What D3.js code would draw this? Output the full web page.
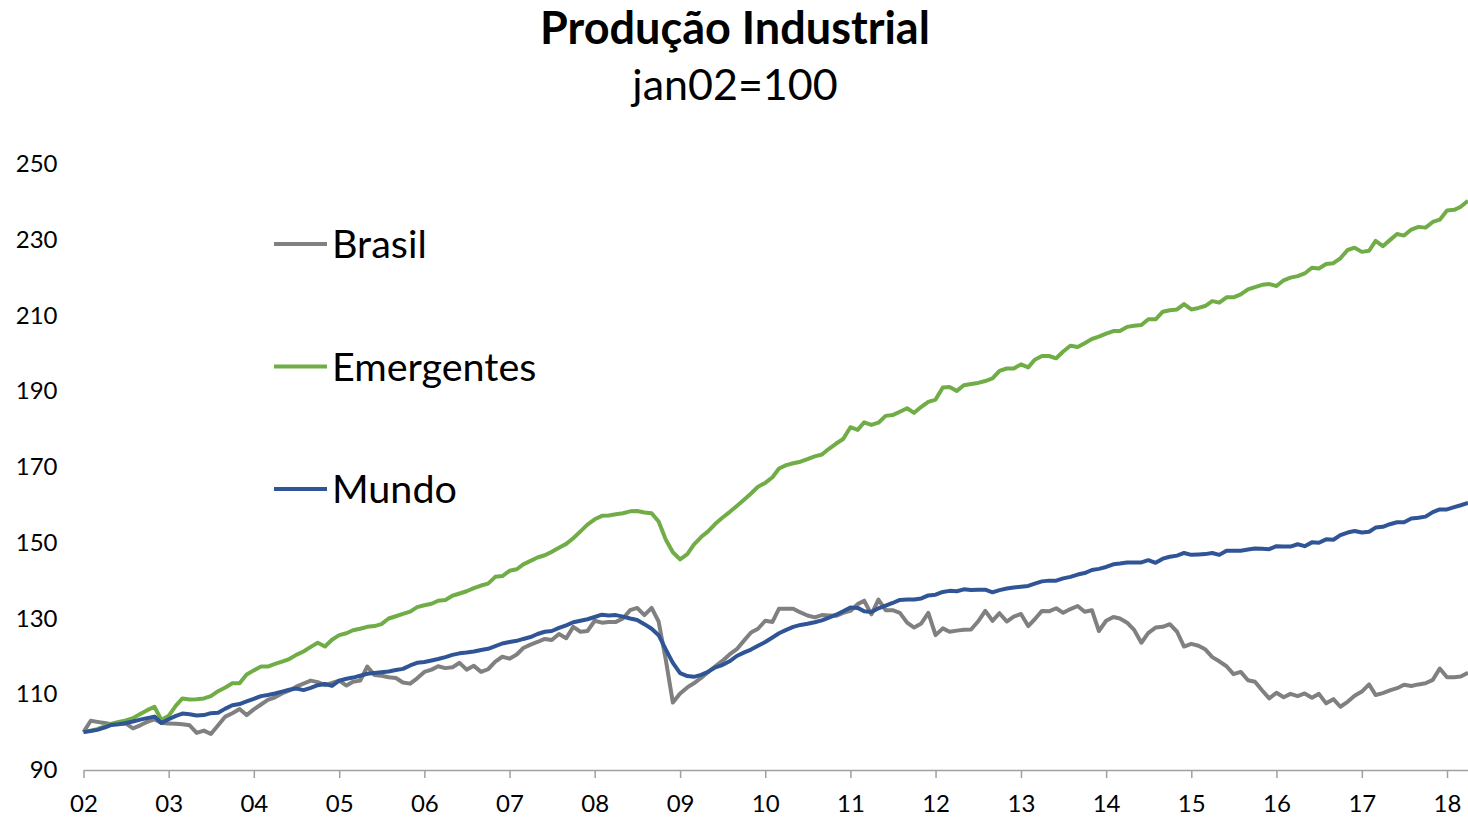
<!DOCTYPE html>
<html>
<head>
<meta charset="utf-8">
<script src="https://cdn.jsdelivr.net/npm/d3@7"></script>
<style>
  body { margin: 0; background: #fff; }
  text { font-family: Lato, "Open Sans", sans-serif; fill: #000; }
</style>
</head>
<body>
<svg id="chart" width="1468" height="818"></svg>
<script>
// monthly index, jan02 = 100 (jan 2002 .. apr 2018)
const brasil = [
  100.0, 103.0, 102.7, 102.4, 102.1, 102.2, 102.3, 101.0, 101.8, 102.7, 103.4, 102.4, // 02
  102.3, 102.2, 102.1, 101.8,  99.8, 100.4,  99.5, 101.8, 104.1, 105.0, 106.1, 104.5, // 03
  106.0, 107.3, 108.5, 109.2, 110.2, 111.0, 112.0, 112.8, 113.6, 113.2, 112.4, 113.0, // 04
  113.6, 112.3, 113.3, 113.6, 117.3, 115.1, 114.9, 114.5, 114.3, 113.1, 112.8, 114.2, // 05
  115.9, 116.5, 117.4, 116.9, 117.1, 118.3, 116.5, 117.5, 115.9, 116.6, 118.6, 119.9, // 06
  119.4, 120.5, 122.2, 123.1, 123.8, 124.6, 124.3, 125.9, 124.8, 127.8, 126.5, 126.7, // 07
  129.4, 128.9, 129.1, 129.1, 130.0, 132.2, 132.8, 130.9, 132.8, 129.2, 119.0, 107.8, // 08
  110.2, 111.8, 112.9, 114.3, 115.9, 117.4, 118.8, 120.5, 121.9, 124.1, 126.3, 127.3, // 09
  129.4, 129.1, 132.6, 132.6, 132.6, 131.6, 130.8, 130.3, 130.9, 130.8, 130.7, 131.5, // 10
  132.0, 133.8, 134.7, 131.1, 135.0, 132.2, 132.2, 131.5, 128.9, 127.6, 128.7, 131.5, // 11
  125.6, 127.4, 126.5, 126.8, 127.0, 127.1, 129.2, 132.0, 129.4, 131.4, 129.2, 130.5, // 12
  131.2, 128.0, 129.8, 132.0, 131.9, 132.7, 131.5, 132.5, 133.3, 131.8, 132.2, 126.7, // 13
  129.4, 130.4, 130.0, 128.9, 127.0, 123.6, 126.2, 127.6, 127.8, 128.5, 126.5, 122.6, // 14
  123.3, 122.8, 121.9, 119.8, 118.7, 117.4, 115.3, 115.9, 113.7, 113.3, 111.0, 108.9, // 15
  110.4, 109.2, 110.1, 109.5, 110.2, 109.1, 110.1, 107.6, 108.7, 106.7, 108.0, 109.6, // 16
  110.7, 112.6, 109.8, 110.3, 111.0, 111.6, 112.5, 112.2, 112.6, 112.9, 113.8, 116.8, // 17
  114.5, 114.5, 114.7, 115.7                                                          // 18
];

const emergentes = [
  100.0, 100.4, 100.8, 101.5, 102.2, 102.7, 103.1, 103.7, 104.8, 105.8, 106.7, 103.2,
  104.3, 107.0, 108.9, 108.6, 108.7, 108.9, 109.5, 110.8, 111.8, 112.9, 112.9, 115.2,
  116.3, 117.3, 117.3, 118.0, 118.6, 119.3, 120.4, 121.3, 122.5, 123.6, 122.6, 124.4,
  125.6, 126.1, 126.9, 127.3, 127.8, 128.0, 128.5, 130.0, 130.6, 131.2, 131.8, 133.0,
  133.5, 133.9, 134.7, 134.9, 136.0, 136.6, 137.2, 138.0, 138.7, 139.2, 141.0, 141.2,
  142.6, 143.0, 144.3, 145.2, 146.1, 146.7, 147.6, 148.7, 149.7, 151.2, 153.0, 154.8,
  156.2, 157.1, 157.2, 157.5, 157.8, 158.3, 158.4, 158.0, 157.8, 155.6, 150.8, 147.5,
  145.6, 147.0, 149.5, 151.5, 153.0, 155.0, 156.6, 158.1, 159.7, 161.3, 163.0, 164.8,
  165.8, 167.3, 169.6, 170.5, 171.0, 171.4, 172.1, 172.8, 173.3, 174.8, 176.2, 177.4,
  180.5, 179.8, 181.8, 181.1, 181.7, 183.5, 183.7, 184.6, 185.5, 184.3, 185.9, 187.2,
  187.8, 191.0, 191.1, 190.1, 191.6, 191.9, 192.2, 192.7, 193.4, 195.4, 196.0, 196.0,
  197.1, 196.3, 198.3, 199.3, 199.3, 198.7, 200.5, 202.0, 201.7, 202.7, 203.8, 204.4,
  205.2, 205.9, 205.9, 207.0, 207.3, 207.5, 209.0, 209.0, 211.0, 211.4, 211.6, 213.0,
  211.6, 212.0, 212.5, 213.8, 213.4, 214.8, 214.8, 215.6, 216.9, 217.5, 218.1, 218.3,
  217.8, 219.3, 220.0, 220.4, 221.1, 222.6, 222.4, 223.6, 223.8, 225.1, 227.3, 227.9,
  226.8, 227.1, 229.7, 228.3, 229.9, 231.5, 231.1, 232.7, 233.4, 233.2, 234.7, 235.3,
  237.7, 237.9, 238.7, 240.3
];

const mundo = [
  100.0, 100.3, 100.6, 101.2, 101.9, 102.1, 102.4, 102.8, 103.3, 103.7, 104.1, 102.4,
  103.4, 104.3, 104.9, 104.7, 104.4, 104.5, 105.0, 105.1, 106.2, 107.1, 107.4, 108.1,
  108.8, 109.5, 109.8, 110.2, 110.7, 111.2, 111.5, 111.1, 111.7, 112.4, 112.7, 112.2,
  113.6, 114.1, 114.4, 114.9, 115.4, 115.6, 115.8, 116.0, 116.4, 116.7, 117.6, 118.3,
  118.5, 118.9, 119.3, 119.8, 120.4, 120.8, 121.0, 121.3, 121.7, 122.0, 122.7, 123.4,
  123.8, 124.1, 124.6, 125.1, 125.9, 126.5, 126.7, 127.5, 128.2, 129.0, 129.4, 129.8,
  130.4, 131.0, 130.8, 130.9, 130.5, 130.0, 129.6, 128.5, 127.3, 125.6, 121.8, 118.3,
  115.6, 114.8, 114.6, 115.1, 115.9, 117.1, 117.7, 118.7, 120.1, 121.0, 121.8, 122.8,
  123.8, 125.0, 126.1, 127.0, 127.8, 128.3, 128.6, 129.0, 129.5, 130.2, 131.0, 131.9,
  132.9, 132.8, 131.9, 131.7, 132.7, 133.4, 134.1, 134.9, 135.0, 135.0, 135.3, 136.1,
  136.3, 137.0, 137.3, 137.2, 137.7, 137.5, 137.6, 137.6, 136.9, 137.5, 137.9, 138.2,
  138.4, 138.6, 139.2, 139.8, 140.0, 140.0, 140.6, 141.0, 141.6, 142.0, 142.8, 143.1,
  143.6, 144.3, 144.5, 144.8, 144.8, 144.8, 145.4, 144.7, 145.8, 146.3, 146.6, 147.3,
  146.8, 146.9, 147.0, 147.3, 146.8, 147.9, 147.9, 147.9, 148.2, 148.5, 148.4, 148.3,
  149.1, 149.0, 149.0, 149.6, 149.1, 150.1, 150.0, 150.9, 150.8, 152.0, 152.7, 153.1,
  152.7, 152.9, 154.0, 154.2, 154.9, 155.4, 155.4, 156.4, 156.6, 156.9, 158.1, 158.8,
  158.8, 159.4, 159.9, 160.5
];

const seriesNames = ["Brasil", "Emergentes", "Mundo"];
const seriesColors = ["#808080", "#70ad47", "#2f5597"];
const yearLabels = ["02", "03", "04", "05", "06", "07", "08", "09", "10",
                    "11", "12", "13", "14", "15", "16", "17", "18"];
const yTicks = [90, 110, 130, 150, 170, 190, 210, 230, 250];

const titleText = "Produção Industrial";
const subtitleText = "jan02=100";

const margin = { left: 83.5, right: 0, top: 164, bottom: 48 };
const svg = d3.select("#chart");
const width = +svg.attr("width");
const height = +svg.attr("height");

const months = brasil.map((d, i) => new Date(2002, i, 1));
const series = [brasil, emergentes, mundo];

const x = d3.scaleTime()
    .domain([months[0], months[months.length - 1]])
    .range([margin.left, width - margin.right]);

const y = d3.scaleLinear()
    .domain([90, 250])
    .range([height - margin.bottom, margin.top]);

// titles
svg.append("text")
    .attr("x", 735).attr("y", 44)
    .attr("text-anchor", "middle")
    .style("font-size", "45px")
    .style("font-weight", "bold")
    .text(titleText);

svg.append("text")
    .attr("x", 735).attr("y", 100)
    .attr("text-anchor", "middle")
    .style("font-size", "43px")
    .text(subtitleText);

// y axis: labels only
let yAxis = svg.append("g")
    .attr("transform", `translate(${margin.left - 26},0)`)
    .call(d3.axisLeft(y).tickValues(yTicks).tickSize(0).tickPadding(0))
yAxis.select(".domain").remove();
yAxis.selectAll("text")
    .style("font-family", "Lato, sans-serif")
    .style("font-size", "24px")
    .attr("fill", "#000");

// x axis
const yearTicks = yearLabels.map((d, i) => new Date(2002 + i, 0, 1));
let xAxis = svg.append("g")
    .attr("transform", `translate(0,${y(90)})`)
    .call(d3.axisBottom(x)
        .tickValues(yearTicks)
        .tickFormat((d, i) => yearLabels[i])
        .tickSizeInner(8)
        .tickSizeOuter(0)
        .tickPadding(17));
xAxis.select(".domain").attr("stroke", "#a0a0a0").attr("stroke-width", 1.5);
xAxis.selectAll(".tick line").attr("stroke", "#a0a0a0").attr("stroke-width", 1.5);
xAxis.selectAll("text")
    .style("font-family", "Lato, sans-serif")
    .style("font-size", "24px")
    .attr("fill", "#000");

// lines
const line = d3.line()
    .x((d, i) => x(months[i]))
    .y(d => y(d));

svg.selectAll("path.series")
    .data(series)
    .enter()
    .append("path")
        .attr("class", "series")
        .attr("fill", "none")
        .attr("stroke", (d, i) => seriesColors[i])
        .attr("stroke-width", 4)
        .attr("stroke-linejoin", "round")
        .attr("d", line);

// legend
const legend = svg.append("g").attr("transform", "translate(274,244)");
const legendItems = legend.selectAll("g")
    .data(seriesNames)
    .enter()
    .append("g")
        .attr("transform", (d, i) => `translate(0,${i * 122.5})`);

legendItems.append("line")
    .attr("x1", 0).attr("x2", 53)
    .attr("y1", 0).attr("y2", 0)
    .attr("stroke", (d, i) => seriesColors[i])
    .attr("stroke-width", 4);

legendItems.append("text")
    .attr("x", 58).attr("y", 14)
    .style("font-size", "39.5px")
    .text(d => d);
</script>
</body>
</html>
